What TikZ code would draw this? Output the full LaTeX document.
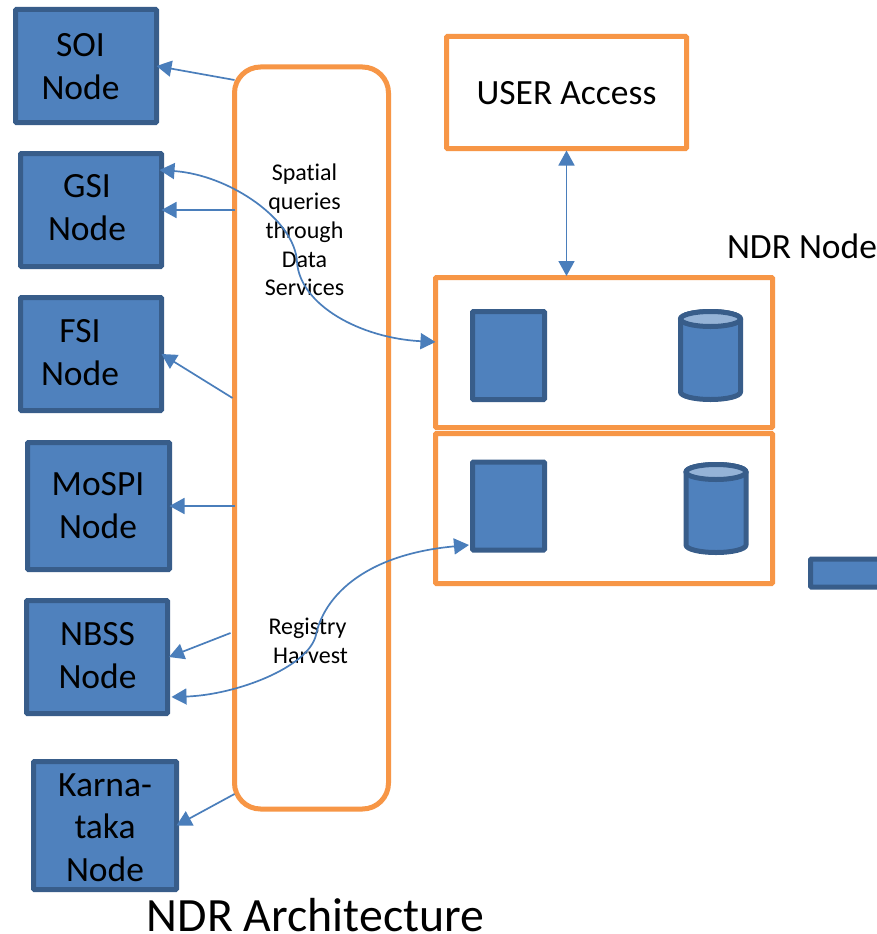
\documentclass[tikz,border=0pt]{standalone}
\usepackage{fontspec}
\setmainfont{Carlito}[Ligatures=NoCommon]
\usetikzlibrary{arrows.meta}
\definecolor{bluefill}{HTML}{4F81BD}
\definecolor{blueline}{HTML}{385D8A}
\definecolor{orangeline}{HTML}{F79646}
\definecolor{capfill}{HTML}{95B3D7}
\definecolor{arrowblue}{HTML}{4A7EBB}
\tikzset{
  bluebox/.style={draw=blueline,fill=bluefill,line width=5pt,rectangle,rounded corners=1pt,inner sep=0pt,outer sep=0pt},
  orangebox/.style={draw=orangeline,line width=5pt,rectangle,rounded corners=1pt,inner sep=0pt,outer sep=0pt},
  bigtext/.style={font=\fontsize{35.5}{42.5}\selectfont,align=center,inner sep=0pt,outer sep=0pt},
  smalltext/.style={font=\fontsize{24}{28.8}\selectfont,align=center,inner sep=0pt,outer sep=0pt},
  link/.style={draw=arrowblue,line width=1.7pt},
  tip/.style={-{Triangle[length=15pt,width=16pt]}},
  dbltip/.style={{Triangle[length=15pt,width=16pt]}-{Triangle[length=15pt,width=16pt]}},
  dbframe/.style={rectangle,minimum width=60pt,minimum height=88pt,inner sep=0pt,outer sep=0pt},
  dbbody/.style={draw=blueline,fill=bluefill,line width=5pt,line join=round},
  dbcap/.style={draw=blueline,fill=capfill,line width=5pt}
}
\newcommand{\dbdraw}[1]{%
  \draw[dbbody] ([yshift=-7.5pt]#1.north west) -- ([yshift=7.5pt]#1.south west)
    arc (180:360:30pt and 7.5pt) -- ([yshift=-7.5pt]#1.north east)
    arc (0:180:30pt and 7.5pt) -- cycle;
  \draw[dbcap] ([yshift=-7.5pt]#1.north) ellipse (30pt and 7.5pt);
}
\begin{document}
\begin{tikzpicture}[x=1pt,y=-1pt]
\clip (0,0) rectangle (877,934);
\fill[white] (0,0) rectangle (877,934);
% left source nodes
\node[bluebox,minimum width=141pt,minimum height=113pt] (soi) at (86,66) {};
\node[bluebox,minimum width=141pt,minimum height=113pt] (gsi) at (91,210) {};
\node[bluebox,minimum width=141pt,minimum height=113pt] (fsi) at (91,354) {};
\node[bluebox,minimum width=142pt,minimum height=127pt] (mospi) at (98.5,506) {};
\node[bluebox,minimum width=141pt,minimum height=113pt] (nbss) at (97,657) {};
\node[bluebox,minimum width=143pt,minimum height=128pt] (karna) at (105,825.5) {};
\node[bigtext] (tsoi) at (80.5,66.5) {SOI\\Node};
\node[bigtext] (tgsi) at (87,207.5) {GSI\\Node};
\node[bigtext] (tfsi) at (80,352.5) {FSI\\Node};
\node[bigtext] (tmospi) at (98,505.5) {MoSPI\\Node};
\node[bigtext] (tnbss) at (97.5,655.5) {NBSS\\Node};
\node[bigtext] (tkarna) at (105,827.5) {Karna-\\taka\\Node};
% central column
\node[orangebox,rounded corners=26pt,minimum width=154pt,minimum height=742pt] (tall) at (311.5,438) {};
\node[smalltext] (tspatial) at (304.5,230) {Spatial\\queries\\through\\Data\\Services};
\node[smalltext] (tharvest) at (307.5,641) {Registry\\\hspace*{6pt}Harvest};
% right side
\node[orangebox,minimum width=240pt,minimum height=112pt] (user) at (566.5,92.5) {};
\node[bigtext] (tuser) at (566.5,93) {USER Access};
\node[bigtext,anchor=east] (tndr) at (877,246.5) {NDR Node};
\node[orangebox,minimum width=337pt,minimum height=150pt] (ndra) at (604,352.5) {};
\node[orangebox,minimum width=337pt,minimum height=150pt] (ndrb) at (604,508.5) {};
\node[bluebox,minimum width=72pt,minimum height=88pt] (appa) at (508.5,355.5) {};
\node[bluebox,minimum width=72pt,minimum height=88pt] (appb) at (508.5,506) {};
\node[dbframe] (dba) at (710.5,355.5) {};
\node[dbframe] (dbb) at (716,508.5) {};
\dbdraw{dba}
\dbdraw{dbb}
\node[bluebox,minimum width=100pt,minimum height=28pt] (stub) at (860.5,573) {};
\node[font=\fontsize{47.8}{57}\selectfont,inner sep=0pt] (title) at (315.5,915) {NDR Architecture};
% connectors
\draw[link,tip] ([yshift=358pt]tall.west) -- (soi.east);
\draw[link,tip] ([yshift=228pt]tall.west) -- (gsi.east);
\draw[link,tip] ([yshift=40pt,xshift=-2pt]tall.west) -- (fsi.east);
\draw[link,tip] ([yshift=-68pt]tall.west) -- (mospi.east);
\draw[link,tip] ([yshift=-195pt,xshift=-4pt]tall.west) -- ([xshift=1.5pt]nbss.east);
\draw[link,tip] ([yshift=-356pt]tall.west) -- (karna.east);
\draw[link,dbltip] ([yshift=-2pt]user.south) -- ([yshift=1.5pt]user.south |- ndra.north);
\draw[link,dbltip] ([yshift=40pt,xshift=-2pt]gsi.east) .. controls (230,175) and (295,220) .. (297,262)
   .. controls (300,305) and (360,338) .. ([yshift=10.5pt]ndra.west);
\draw[link,dbltip] ([yshift=-40pt,xshift=4pt]nbss.east) .. controls (235,695) and (308,668) .. (316,635)
   .. controls (323,600) and (360,555) .. ([yshift=-39pt,xshift=-3.5pt]appb.west);
\end{tikzpicture}
\end{document}
